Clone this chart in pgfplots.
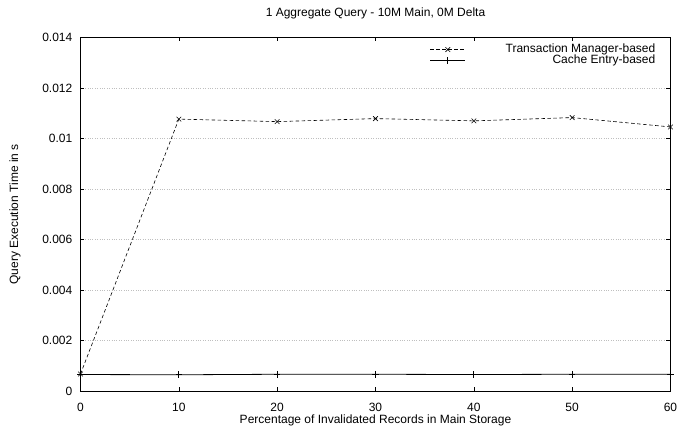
\documentclass[border=0pt]{standalone}
\usepackage{fontspec}
\setmainfont{Liberation Sans}
\usepackage{pgfplots}
\pgfplotsset{compat=1.18}
\begin{document}
\fontsize{12}{14}\selectfont
\begin{tikzpicture}
\begin{axis}[
  name=ax,
  scale only axis,
  width=590pt, height=353.7pt,
  xmin=0, xmax=60, ymin=0, ymax=0.014,
  xtick={0,10,20,30,40,50,60},
  xticklabels={0,10,20,30,40,50,60},
  ytick={0,0.002,0.004,0.006,0.008,0.01,0.012,0.014},
  yticklabels={0,0.002,0.004,0.006,0.008,0.01,0.012,0.014},
  scaled y ticks=false,
  tick align=inside,
  major tick length=4pt,
  tick style={black, line width=0.6pt},
  ymajorgrids,
  grid style={dotted, black!25, line width=0.4pt},
  axis line style={black, line width=0.8pt},
  yticklabel style={xshift=-4pt},
  xticklabel style={yshift=-7.5pt},
  title={1 Aggregate Query - 10M Main, 0M Delta},
  title style={at={(0.5,1)}, anchor=base, yshift=14.5pt},
  xlabel={Percentage of Invalidated Records in Main Storage},
  xlabel style={at={(0.5,0)}, anchor=center, yshift=-29.5pt},
  ylabel={Query Execution Time in s},
  ylabel style={at={(0,0.5)}, anchor=center, yshift=65.5pt},
  legend cell align=right,
  legend style={draw=none, fill=none, at={(0.9746,0.982)}, anchor=north east,
    inner sep=0pt, column sep=40pt, row sep=0pt,
    nodes={inner sep=0pt, text height=8.5pt, text depth=2.5pt}},
  legend image code/.code={\draw[mark repeat=2,mark phase=2,#1] plot coordinates {(0pt,0pt) (17.5pt,0pt) (35pt,0pt)};},
]
\addplot[black, dash pattern=on 3.5pt off 2.5pt, line width=0.6pt, mark=x, mark size=3.3pt, mark options={solid, line width=0.6pt}]
  coordinates {(0,0.00068) (10,0.01077) (20,0.01067) (30,0.01079) (40,0.01070) (50,0.01083) (60,0.01046)};
\addlegendentry{Transaction Manager-based}
\addplot[black, line width=0.8pt, mark=+, mark size=3.3pt, mark options={line width=0.7pt}]
  coordinates {(0,0.00066) (10,0.00065) (20,0.00067) (30,0.00067) (40,0.00066) (50,0.00067) (60,0.00067)};
\addlegendentry{Cache Entry-based}
\end{axis}
\pgfresetboundingbox
\path[use as bounding box] ([shift={(-80.5pt,-36.8pt)}]ax.south west) rectangle ([shift={(597.5pt,391.2pt)}]ax.south west);
\end{tikzpicture}
\end{document}
